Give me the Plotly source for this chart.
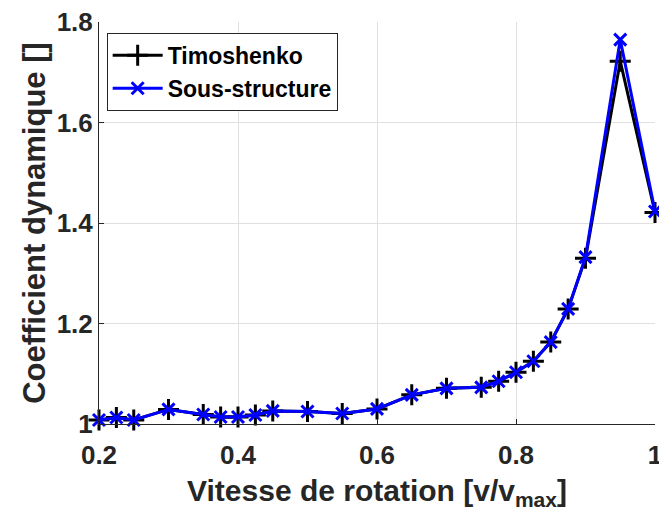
import plotly.graph_objects as go

# Rotation speed (normalised) and dynamic coefficient for both models
vitesse = [0.2, 0.225, 0.25, 0.3, 0.35, 0.375, 0.4, 0.425, 0.45, 0.5, 0.55, 0.6,
           0.65, 0.7, 0.75, 0.775, 0.8, 0.825, 0.85, 0.875, 0.9, 0.95, 1.0]
timoshenko = [1.008, 1.013, 1.008, 1.029, 1.019, 1.014, 1.014, 1.018, 1.026, 1.025,
              1.021, 1.030, 1.058, 1.071, 1.073, 1.085, 1.103, 1.125, 1.163, 1.229,
              1.330, 1.722, 1.421]
sous_structure = [1.008, 1.013, 1.008, 1.029, 1.019, 1.014, 1.014, 1.018, 1.026, 1.025,
                  1.021, 1.030, 1.058, 1.071, 1.073, 1.085, 1.103, 1.125, 1.163, 1.229,
                  1.332, 1.765, 1.423]

x_ticks = [0.2, 0.4, 0.6, 0.8, 1.0]
y_ticks = [1.0, 1.2, 1.4, 1.6, 1.8]

axis_col = "#262626"
grid_col = "#e0e0e0"
font_family = "Liberation Sans"

fig = go.Figure()
fig.add_trace(go.Scatter(
    x=vitesse, y=timoshenko, name="Timoshenko", mode="lines+markers",
    line=dict(color="black", width=3), cliponaxis=False,
    marker=dict(symbol="cross-thin", size=15, color="black",
                line=dict(color="black", width=3)),
))
fig.add_trace(go.Scatter(
    x=vitesse, y=sous_structure, name="Sous-structure", mode="lines+markers",
    line=dict(color="#0000ff", width=3), cliponaxis=False,
    marker=dict(symbol="x-thin", size=12, color="#0000ff",
                line=dict(color="#0000ff", width=3)),
))

fig.update_layout(
    width=659, height=515,
    margin=dict(l=99, r=4, t=22, b=91),
    paper_bgcolor="white", plot_bgcolor="white",
    font=dict(family=font_family, color=axis_col, weight="bold"),
    showlegend=True,
    legend=dict(
        x=0.0138, y=0.973, xanchor="left", yanchor="top",
        bgcolor="white", bordercolor=axis_col, borderwidth=1,
        font=dict(family=font_family, size=23, color="black", weight="bold"),
        itemwidth=50, tracegroupgap=0,
    ),
)

fig.update_xaxes(
    range=[0.2, 1.0], tickvals=x_ticks, ticktext=["0.2", "0.4", "0.6", "0.8", "1"],
    automargin=False,
    showgrid=True, gridcolor=grid_col, gridwidth=1, zeroline=False,
    showline=True, linecolor=axis_col, linewidth=1,
    ticks="inside", ticklen=5, tickcolor=axis_col,
    ticklabelstandoff=8, ticklabeloverflow="allow",
    tickfont=dict(family=font_family, size=26, color=axis_col, weight="bold"),
    title=dict(text="Vitesse de rotation [v/v<sub>max</sub>]",
               font=dict(family=font_family, size=30, color=axis_col, weight="bold"),
               standoff=10),
)
fig.update_yaxes(
    range=[1.0, 1.8], tickvals=y_ticks, ticktext=["1", "1.2", "1.4", "1.6", "1.8"],
    automargin=False,
    showgrid=True, gridcolor=grid_col, gridwidth=1, zeroline=False,
    showline=True, linecolor=axis_col, linewidth=1,
    ticks="inside", ticklen=5, tickcolor=axis_col,
    tickfont=dict(family=font_family, size=26, color=axis_col, weight="bold"),
    title=dict(text="Coefficient dynamique []",
               font=dict(family=font_family, size=31, color=axis_col, weight="bold"),
               standoff=1),
)

fig.write_html("out.html")
